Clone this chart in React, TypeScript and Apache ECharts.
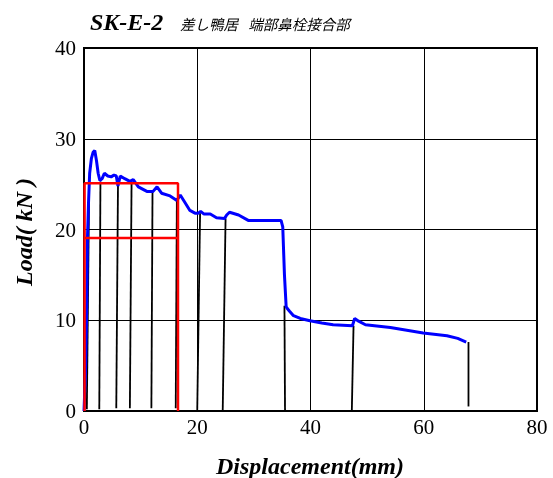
import React, { useEffect, useRef } from "react";
import * as echarts from "echarts";

// Envelope curve (blue): displacement (mm) and load (kN)
const envDisp = [0, 0.3, 0.5, 0.6, 0.8, 1.0, 1.3, 1.6, 1.9, 2.2, 2.5, 2.8, 3.2, 3.6, 4.2, 4.8, 5.3, 5.7, 6.0, 6.4, 7.2, 8.1, 8.7, 9.6, 11.1, 12.2, 12.9, 13.7, 15.2, 16.4, 17.0, 17.8, 18.7, 19.6, 20.2, 20.6, 21.2, 22.3, 23.4, 24.8, 25.2, 25.7, 27.3, 29.0, 31.1, 34.8, 35.1, 35.4, 35.7, 35.9, 36.3, 37.0, 38.2, 39.9, 42.0, 44.0, 47.4, 47.8, 48.5, 49.7, 54.1, 59.9, 64.1, 66.0, 67.5];
const envLoad = [0, 5, 12, 18.8, 23, 26.2, 27.8, 28.5, 28.7, 27.6, 26.2, 25.4, 25.6, 26.2, 25.9, 25.8, 26.0, 25.9, 24.8, 25.9, 25.6, 25.3, 25.5, 24.7, 24.2, 24.2, 24.7, 24.0, 23.7, 23.2, 23.8, 23.0, 22.1, 21.8, 21.8, 22.0, 21.7, 21.7, 21.3, 21.2, 21.6, 21.9, 21.6, 21.0, 21.0, 21.0, 20.3, 15.0, 11.5, 11.3, 11.0, 10.5, 10.2, 9.95, 9.7, 9.5, 9.4, 10.2, 9.9, 9.5, 9.2, 8.6, 8.3, 8.0, 7.6];

// Unloading / reloading lines (black): top point and bottom point
const cycleTopDisp = [0.9, 2.9, 6.0, 8.4, 12.1, 16.4, 20.5, 25.0, 35.4, 47.6, 67.9];
const cycleTopLoad = [24.0, 25.3, 24.8, 25.3, 24.2, 23.2, 21.8, 21.2, 11.6, 9.4, 7.6];
const cycleBotDisp = [0.5, 2.7, 5.7, 8.1, 11.9, 16.2, 20.0, 24.5, 35.5, 47.3, 67.9];
const cycleBotLoad = [0.2, 0.2, 0.3, 0.3, 0.3, 0.3, 0.1, 0.1, 0.1, 0.1, 0.5];

// Red frames
const redFrameDisp = [0.1, 0.1, 16.6, 16.6];
const redFrameLoad = [0, 25.1, 25.1, 0];
const redLineDisp = [0.1, 16.6];
const redLineLoad = [19.05, 19.05];

// Axes
const xTicks = [0, 20, 40, 60, 80];
const yTicks = [0, 10, 20, 30, 40];

const titleMain = "SK-E-2";
const titleSub = "差し鴨居\u2002\u2009端部鼻栓接合部";
const xName = "Displacement(mm)";
const yName = "Load( kN )";

const zip = (a: number[], b: number[]) => a.map((v, i) => [v, b[i]]);

export default function App() {
  const ref = useRef<HTMLDivElement>(null);
  useEffect(() => {
    if (!ref.current) return;
    document.body.style.margin = "0";
    document.body.style.overflow = "hidden";
    const chart = echarts.init(ref.current, undefined, { renderer: "svg" });
    const serif = "'Liberation Serif', 'Times New Roman', serif";
    const cycleSeries = cycleTopDisp.map((_, i) => ({
      type: "line",
      data: [
        [cycleTopDisp[i], cycleTopLoad[i]],
        [cycleBotDisp[i], cycleBotLoad[i]],
      ],
      showSymbol: false,
      lineStyle: { color: "#000", width: 1.8 },
      z: 2,
      silent: true,
    }));
    chart.setOption({
      animation: false,
      grid: {
        left: 84,
        right: 16,
        top: 48,
        bottom: 67,
        show: true,
        borderColor: "#000",
        borderWidth: 2,
        backgroundColor: "#fff",
      },
      xAxis: {
        type: "value",
        min: xTicks[0],
        max: xTicks[xTicks.length - 1],
        interval: 20,
        axisLine: { show: true, lineStyle: { color: "#000", width: 2 } },
        axisTick: { show: false },
        splitLine: { show: true, lineStyle: { color: "#000", width: 1 } },
        axisLabel: { color: "#000", fontSize: 21, fontFamily: serif, margin: 5 },
      },
      yAxis: {
        type: "value",
        min: yTicks[0],
        max: yTicks[yTicks.length - 1],
        interval: 10,
        axisLine: { show: true, lineStyle: { color: "#000", width: 2 } },
        axisTick: { show: false },
        splitLine: { show: true, lineStyle: { color: "#000", width: 1 } },
        axisLabel: { color: "#000", fontSize: 21, fontFamily: serif, margin: 8 },
      },
      series: [
        ...cycleSeries,
        {
          type: "line",
          data: zip(envDisp, envLoad),
          showSymbol: false,
          lineStyle: { color: "#0000ff", width: 3 },
          z: 3,
          silent: true,
        },
        {
          type: "line",
          data: zip(redFrameDisp, redFrameLoad),
          showSymbol: false,
          lineStyle: { color: "#ff0000", width: 2.5 },
          z: 4,
          silent: true,
        },
        {
          type: "line",
          data: zip(redLineDisp, redLineLoad),
          showSymbol: false,
          lineStyle: { color: "#ff0000", width: 2.5 },
          z: 4,
          silent: true,
        },
      ],
      graphic: [
        {
          type: "text",
          left: 90,
          top: 10,
          style: {
            text: titleMain,
            fontFamily: serif,
            fontSize: 24,
            fontWeight: "bold",
            fontStyle: "italic",
            fill: "#000",
          },
        },
        {
          type: "text",
          left: 180,
          top: 16,
          style: {
            text: titleSub,
            fontFamily: "'Noto Sans CJK JP', sans-serif",
            fontSize: 14.5,
            fontStyle: "italic",
            fill: "#000",
          },
        },
        {
          type: "text",
          x: 310,
          y: 466,
          style: {
            text: xName,
            fontFamily: serif,
            fontSize: 24,
            fontWeight: "bold",
            fontStyle: "italic",
            fill: "#000",
            align: "center",
            verticalAlign: "middle",
          },
        },
        {
          type: "text",
          x: 24,
          y: 232,
          rotation: Math.PI / 2,
          style: {
            text: yName,
            fontFamily: serif,
            fontSize: 24,
            fontWeight: "bold",
            fontStyle: "italic",
            fill: "#000",
            align: "center",
            verticalAlign: "middle",
          },
        },
      ],
    });
    return () => chart.dispose();
  }, []);
  return (
    <div
      ref={ref}
      style={{ position: "fixed", left: 0, top: 0, width: 553, height: 478 }}
    />
  );
}
